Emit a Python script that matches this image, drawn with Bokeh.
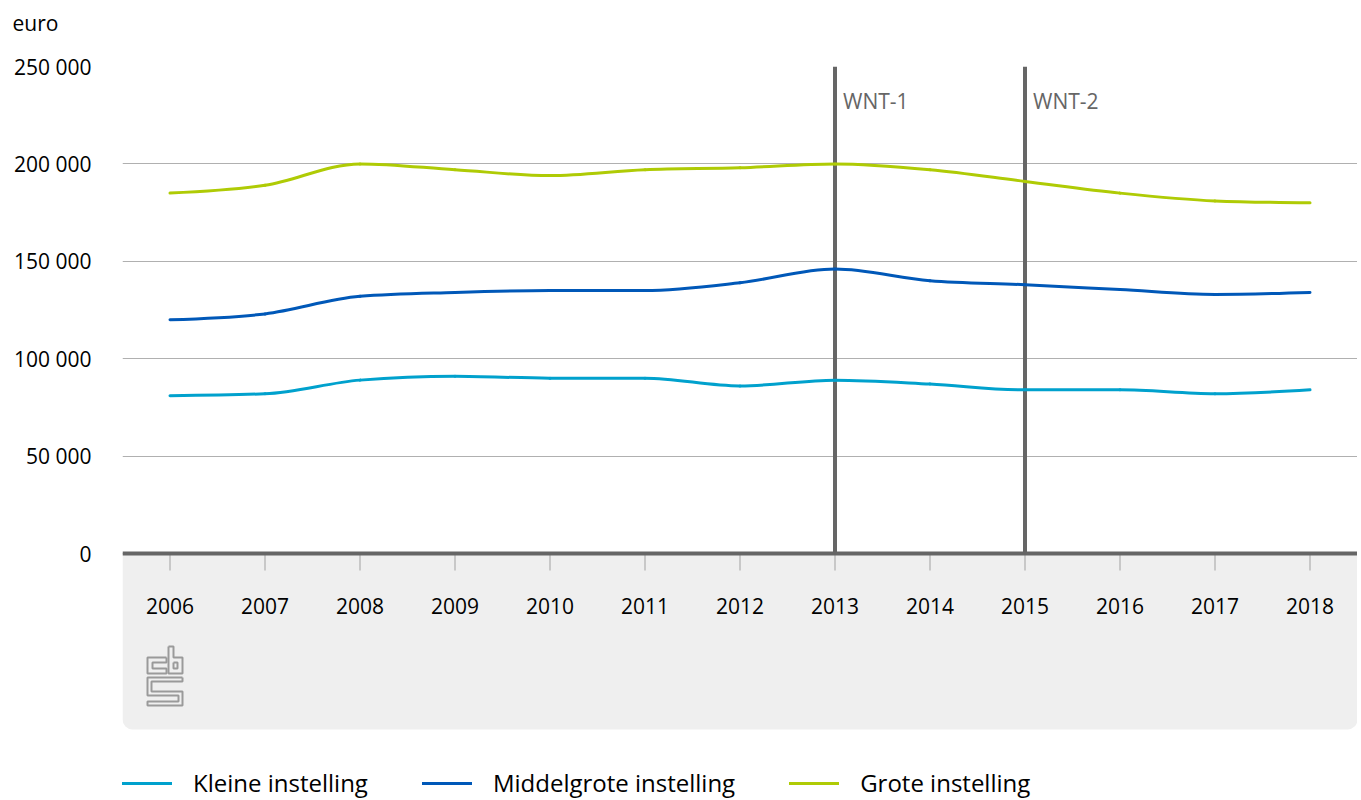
import numpy as np
from bokeh.plotting import figure
from bokeh.models import (Range1d, FixedTicker, Span, BoxAnnotation, Legend,
                          LegendItem, Title)
from bokeh.core.properties import value
from bokeh.embed import file_html
from bokeh.resources import INLINE

# ---------------- data ----------------
years = [2006, 2007, 2008, 2009, 2010, 2011, 2012, 2013, 2014, 2015, 2016, 2017, 2018]
year_labels = [str(y) for y in years]
kleine = [81000, 82000, 89000, 91000, 90000, 90000, 86000, 89000, 87000, 84000, 84000, 82000, 84000]
middel = [120000, 123000, 132000, 134000, 135000, 135000, 139000, 146000, 140000, 138000, 135500, 133000, 134000]
grote = [185000, 189000, 200000, 197000, 194000, 197000, 198000, 200000, 197000, 191000, 185000, 181000, 180000]
series_names = ["Kleine instelling", "Middelgrote instelling", "Grote instelling"]
series_colors = ["#00a1cd", "#0058b8", "#afcb05"]
events = [2013, 2015]
event_labels = ["WNT-1", "WNT-2"]
y_ticks = [0, 50000, 100000, 150000, 200000, 250000]
y_tick_labels = ["0", "50 000", "100 000", "150 000", "200 000", "250 000"]
unit_label = "euro"

# ---------------- layout (pixels) ----------------
W, H = 1357, 798
LEFT, TOP = 122, 66
FRAME_W = W - LEFT
FRAME_H = H - TOP
PLOT_H = 487            # pixels from 0 to 250 000
YMAX = 250000
PX = YMAX / PLOT_H      # data units per pixel
YMIN = -(FRAME_H - PLOT_H) * PX
FONT = "Open Sans"


def monotone_tangents(x, y):
    x = np.asarray(x, float)
    y = np.asarray(y, float)
    n = len(x)
    h = np.diff(x)
    s = np.diff(y) / h
    m = np.zeros(n)
    for i in range(1, n - 1):
        s0, s1 = s[i - 1], s[i]
        p = (s0 * h[i] + s1 * h[i - 1]) / (h[i - 1] + h[i])
        m[i] = (np.sign(s0) + np.sign(s1)) * min(abs(s0), abs(s1), 0.5 * abs(p))
    m[0] = (3 * s[0] - m[1]) / 2
    m[-1] = (3 * s[-1] - m[-2]) / 2
    return m


def bezier_source(x, y):
    x = np.asarray(x, float)
    y = np.asarray(y, float)
    m = monotone_tangents(x, y)
    h = np.diff(x)
    return dict(
        x0=x[:-1], y0=y[:-1], x1=x[1:], y1=y[1:],
        cx0=x[:-1] + h / 3, cy0=y[:-1] + m[:-1] * h / 3,
        cx1=x[1:] - h / 3, cy1=y[1:] - m[1:] * h / 3,
    )


p = figure(width=W, height=H, output_backend="svg", toolbar_location=None,
           x_range=Range1d(2005.5, 2018.5), y_range=Range1d(YMIN, YMAX),
           x_axis_location=None, min_border_left=LEFT, min_border_top=TOP,
           min_border_right=0, min_border_bottom=0)
p.outline_line_color = None
p.background_fill_color = "white"
p.border_fill_color = "white"
p.xgrid.visible = False
p.extra_x_ranges = {"px": Range1d(0, FRAME_W)}
p.extra_y_ranges = {"px": Range1d(FRAME_H, 0)}

# unit label as a left-shifted title (second, empty line lifts it to the top)
p.add_layout(Title(text=unit_label + "\n", align="left", offset=12 - LEFT, standoff=4,
                   text_font=FONT, text_font_size="21px", text_font_style="normal",
                   text_color="#000000"), "above")

# y axis
ax = p.yaxis[0]
ax.ticker = FixedTicker(ticks=y_ticks)
ax.major_label_overrides = {t: l for t, l in zip(y_ticks, y_tick_labels)}
ax.axis_line_color = None
ax.major_tick_line_color = None
ax.minor_tick_line_color = None
ax.major_tick_out = 0
ax.major_tick_in = 0
ax.major_label_standoff = 31
ax.major_label_text_font = FONT
ax.major_label_text_font_size = "21px"
ax.major_label_text_color = "#000000"
p.ygrid.ticker = FixedTicker(ticks=y_ticks)
p.ygrid.grid_line_color = "#b0b0b0"
p.ygrid.grid_line_width = 1

# grey panel below the x axis
panel = BoxAnnotation(top=0, bottom=-176 * PX, fill_color="#efefef", fill_alpha=1,
                      line_alpha=0, border_radius=(0, 0, 10, 10), level="underlay")
p.add_layout(panel)

# x ticks and labels
p.segment(x0=years, y0=[0] * len(years), x1=years, y1=[-17 * PX] * len(years),
          line_color="#c8c8c8", line_width=2)
p.text(x=years, y=[0] * len(years), text=year_labels, y_offset=52,
       text_align="center", text_baseline="middle", text_font=value(FONT),
       text_font_size="21px", text_color="#000000")

# axis line
p.add_layout(Span(location=0, dimension="width", line_color="#666666", line_width=4))

# event lines
p.segment(x0=events, y0=[0] * len(events), x1=events, y1=[YMAX] * len(events),
          line_color="#666666", line_width=4)
p.text(x=events, y=[YMAX] * len(events), text=event_labels, x_offset=8, y_offset=34,
       text_align="left", text_baseline="middle", text_font=value(FONT),
       text_font_size="21px", text_color="#666666")

# series
renderers = []
for vals, col in zip([kleine, middel, grote], series_colors):
    r = p.bezier(source=bezier_source(years, vals), x0="x0", y0="y0", x1="x1", y1="y1",
                 cx0="cx0", cy0="cy0", cx1="cx1", cy1="cy1",
                 line_color=col, line_width=3, line_cap="round")
    renderers.append(r)

# CBS logo (decoration), in pixel coordinates relative to the frame
ox, oy = 146 - LEFT, 646 - TOP
logo_c = [(20, 11), (1, 11), (1, 27), (20, 27), (20, 22), (6, 22), (6, 16), (20, 16), (20, 11)]
logo_b = [(22, 0), (27, 0), (27, 11), (36, 11), (36, 27), (22, 27), (22, 0)]
logo_bi = [(27, 16), (31, 16), (31, 22), (27, 22), (27, 16)]
logo_s = [(36, 31), (1, 31), (1, 49), (32, 49), (32, 55), (1, 55), (1, 59), (36, 59),
          (36, 45), (5, 45), (5, 35), (36, 35), (36, 31)]
xs, ys = [], []
for path in [logo_c, logo_b, logo_bi, logo_s]:
    xs.append([ox + a for a, b in path])
    ys.append([oy + b for a, b in path])
p.multi_line(xs=xs, ys=ys, line_color="#9a9a9a", line_width=2,
             x_range_name="px", y_range_name="px")

# legend
legend = Legend(items=[LegendItem(label=value(n), renderers=[r])
                       for n, r in zip(series_names, renderers)],
                location=(0, -1), orientation="horizontal", glyph_width=50,
                glyph_height=20, label_standoff=21, spacing=54, padding=0, margin=0,
                border_line_alpha=0, background_fill_alpha=0,
                label_text_font=FONT, label_text_font_size="24px",
                label_text_color="#000000")
p.add_layout(legend, "center")

open("out.html", "w").write(file_html(p, INLINE))
